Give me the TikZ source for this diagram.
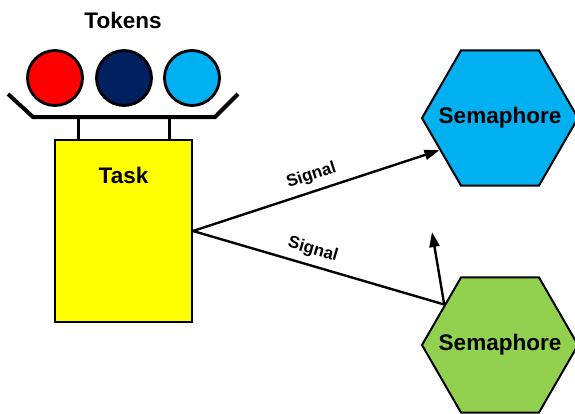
\documentclass[tikz,border=0pt]{standalone}
\usepackage{fontspec}
\setmainfont{Liberation Sans}
\usetikzlibrary{shapes.geometric,arrows.meta}
\definecolor{tokred}{HTML}{FF0000}
\definecolor{toknavy}{HTML}{002060}
\definecolor{tokblue}{HTML}{00B0F0}
\definecolor{semgreen}{HTML}{92D050}
\definecolor{taskyellow}{HTML}{FFFF00}
\tikzset{
  bigtext/.style={font=\bfseries\fontsize{22.5}{26}\selectfont},
  smalltext/.style={font=\bfseries\fontsize{17}{20}\selectfont},
  token/.style={circle, draw=black, line width=2.8pt, minimum size=55pt, inner sep=0pt},
  taskbox/.style={rectangle, draw=black, line width=2pt, fill=taskyellow,
    minimum width=137pt, minimum height=182pt, inner sep=0pt},
  semhex/.style={regular polygon, regular polygon sides=6, draw=black, line width=2pt,
    minimum size=156pt, inner sep=0pt},
  tray/.style={line width=4pt, line join=miter},
  leg/.style={line width=3pt},
  signal/.style={line width=2.4pt, -{Triangle[length=15pt,width=10pt]}},
  plain/.style={line width=2.4pt}
}
\begin{document}
\begin{tikzpicture}[x=1pt,y=-1pt]
\useasboundingbox (0,0) rectangle (575,413);

% semaphores
\node[semhex, fill=tokblue] (semA) at (500,118) {};
\node[bigtext] (semAtext) at (semA.center) {Semaphore};
\node[semhex, fill=semgreen] (semB) at (500,345) {};
\node[bigtext] (semBtext) at (semB.center) {Semaphore};

% task and its tray of tokens
\node[taskbox] (task) at (123.5,231) {};
\node[bigtext] (tasklabel) at ([yshift=-36pt]task.north) {Task};

\coordinate (trayL) at (8,94);
\coordinate (trayBL) at (33,117);
\coordinate (trayBR) at (215,117);
\coordinate (trayR) at (238,94);
\draw[tray] (trayL) -- (trayBL) -- (trayBR) -- (trayR);
\draw[leg] (78,117) -- (task.north -| 78,0);
\draw[leg] (169,117) -- (task.north -| 169,0);

\node[token, fill=tokred] (tokA) at (55,78) {};
\node[token, fill=toknavy] (tokB) at (124,78) {};
\node[token, fill=tokblue] (tokC) at (192,78) {};
\node[bigtext] (tokens) at (123,20) {Tokens};

% signals
\draw[signal] (task.east) -- node[pos=0.5, sloped, above=3pt, smalltext] {Signal} (semA.208);
\draw[plain] (task.east) -- node[pos=0.46, sloped, above=3pt, smalltext] {Signal} (semB.144);
\coordinate (wakeup) at (432,232);
\draw[signal] (semB.144) -- (wakeup);
\end{tikzpicture}
\end{document}
